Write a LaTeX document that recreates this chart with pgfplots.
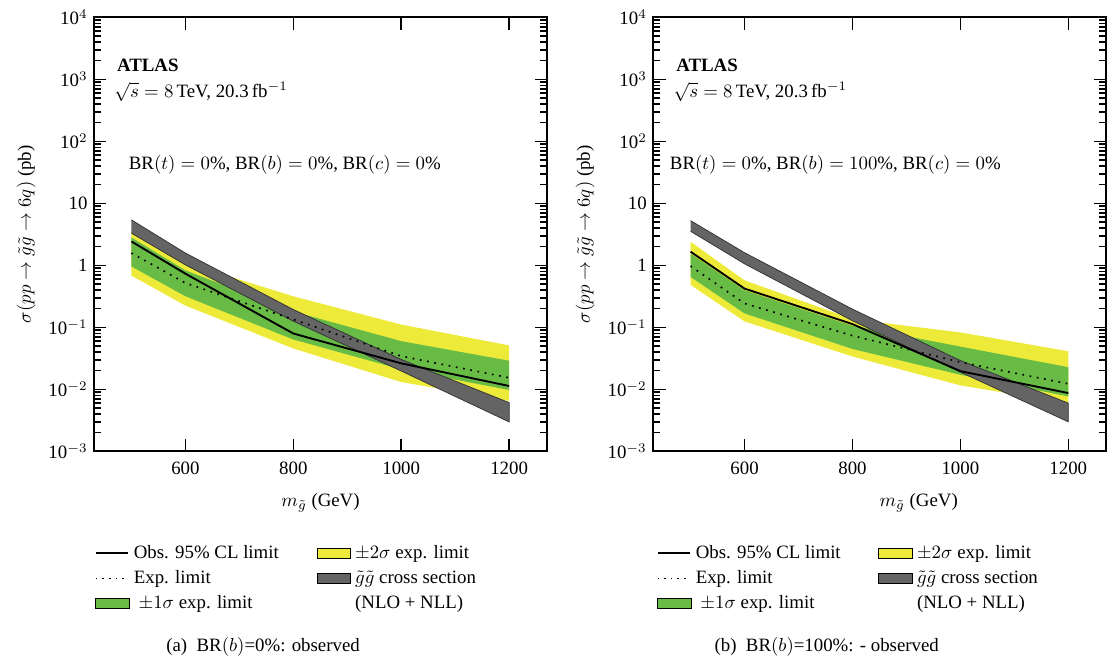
\documentclass[border=0pt]{standalone}
\usepackage{fontspec}
\setmainfont{Liberation Serif}
\usepackage{pgfplots}
\pgfplotsset{compat=1.18}

\definecolor{atlyellow}{RGB}{238,234,58}
\definecolor{atlgreen}{RGB}{104,188,69}
\definecolor{atlgray}{RGB}{100,100,100}

\begin{document}
\begin{tikzpicture}
\path (-50pt,-111.8pt) rectangle (537.1pt,239.6pt);

% (a) BR(b)=0%
\begin{axis}[
    scale only axis, width=240.3pt, height=230.4pt, clip=false,
    ymode=log, xmin=431, xmax=1270, ymin=1e-3, ymax=1e4,
    xtick={600,800,1000,1200},
    ytick={1e-3,1e-2,1e-1,1,10,100,1000,10000},
    yticklabels={10$^{-3}$,10$^{-2}$,10$^{-1}$,1,10,10$^{2}$,10$^{3}$,10$^{4}$},
    /pgf/number format/assume math mode=true,
    /pgf/number format/1000 sep={},
    tick align=inside, major tick length=6.5pt, minor tick length=3.5pt,
    axis line style={line width=1pt},
    every tick/.style={black, line width=0.8pt},
    xticklabel style={yshift=-2pt},
    xlabel={$m_{\tilde{g}}$ (GeV)},
    xlabel style={yshift=-3pt},
    ylabel={$\sigma(pp\to\tilde{g}\tilde{g}\to 6q)$ (pb)},
    legend columns=3, transpose legend, legend cell align=left,
    legend style={draw=none, fill=none, anchor=north west, at={(rel axis cs:-0.012,-0.198)},
      row sep=1pt, /tikz/every even column/.append style={column sep=18pt}},
]
\addlegendimage{black, line width=1pt}\addlegendentry{Obs. 95\% CL limit}
\addlegendimage{black, line width=0.9pt, dash pattern=on 0.9pt off 2.6pt}\addlegendentry{Exp. limit}
\addlegendimage{legend image code/.code={\draw[fill=atlgreen,draw=black,line width=0.5pt] (0pt,-2.7pt) rectangle (18pt,2.7pt);}}
\addlegendentry{\ $\pm1\sigma$ exp. limit}
\addlegendimage{legend image code/.code={\draw[fill=atlyellow,draw=black,line width=0.5pt] (0pt,-2.7pt) rectangle (18pt,2.7pt);}}
\addlegendentry{$\pm2\sigma$ exp. limit}
\addlegendimage{legend image code/.code={\draw[fill=atlgray,draw=black,line width=0.5pt] (0pt,-2.7pt) rectangle (18pt,2.7pt);}}
\addlegendentry{$\tilde{g}\tilde{g}$ cross section}
\addlegendimage{legend image code/.code={}}\addlegendentry{(NLO + NLL)}

% +-2 sigma band
\addplot[forget plot, fill=atlyellow, draw=none] coordinates {
  (500,3.74) (600,1.1) (800,0.317) (1000,0.111) (1200,0.0512)
  (1200,0.0065) (1000,0.01315) (800,0.0457) (600,0.225) (500,0.682)};
% +-1 sigma band
\addplot[forget plot, fill=atlgreen, draw=none] coordinates {
  (500,2.82) (600,0.83) (800,0.18) (1000,0.06) (1200,0.029)
  (1200,0.0098) (1000,0.021) (800,0.0638) (600,0.318) (500,0.96)};
% gluino pair cross section band
\addplot[forget plot, fill=atlgray, draw=black!80, line width=0.4pt] coordinates {
  (500,5.42) (600,1.58) (800,0.194) (1000,0.0304) (1200,0.00612)
  (1200,0.00299) (1000,0.0198) (800,0.126) (600,1.02) (500,3.31)};
% expected
\addplot[forget plot, black, line width=0.9pt, dash pattern=on 0.9pt off 3pt] coordinates {
  (500,1.58) (600,0.52) (800,0.134) (1000,0.0344) (1200,0.0154)};
% observed
\addplot[forget plot, black, line width=1pt] coordinates {
  (500,2.43) (600,0.735) (800,0.0797) (1000,0.0263) (1200,0.01135)};

\node[anchor=west, font=\bfseries] at (rel axis cs:0.036,0.89) {ATLAS};
\node[anchor=west] at (rel axis cs:0.03,0.828) {$\sqrt{s}=8$\,TeV, 20.3\,fb$^{-1}$};
\node[anchor=west] at (rel axis cs:0.062,0.66) {BR$(t)=0$\%, BR$(b)=0$\%, BR$(c)=0$\%};
\node at (rel axis cs:0.373,-0.451) {(a)\enspace BR$(b)$=0\%: observed};
\end{axis}

% (b) BR(b)=100%
\begin{axis}[at={(296.8pt,0pt)},
    scale only axis, width=240.3pt, height=230.4pt, clip=false,
    ymode=log, xmin=431, xmax=1270, ymin=1e-3, ymax=1e4,
    xtick={600,800,1000,1200},
    ytick={1e-3,1e-2,1e-1,1,10,100,1000,10000},
    yticklabels={10$^{-3}$,10$^{-2}$,10$^{-1}$,1,10,10$^{2}$,10$^{3}$,10$^{4}$},
    /pgf/number format/assume math mode=true,
    /pgf/number format/1000 sep={},
    tick align=inside, major tick length=6.5pt, minor tick length=3.5pt,
    axis line style={line width=1pt},
    every tick/.style={black, line width=0.8pt},
    xticklabel style={yshift=-2pt},
    xlabel={$m_{\tilde{g}}$ (GeV)},
    xlabel style={xshift=20.7pt, yshift=-3pt},
    ylabel={$\sigma(pp\to\tilde{g}\tilde{g}\to 6q)$ (pb)},
    legend columns=3, transpose legend, legend cell align=left,
    legend style={draw=none, fill=none, anchor=north west, at={(rel axis cs:-0.006,-0.198)},
      row sep=1pt, /tikz/every even column/.append style={column sep=18pt}},
]
\addlegendimage{black, line width=1pt}\addlegendentry{Obs. 95\% CL limit}
\addlegendimage{black, line width=0.9pt, dash pattern=on 0.9pt off 2.6pt}\addlegendentry{Exp. limit}
\addlegendimage{legend image code/.code={\draw[fill=atlgreen,draw=black,line width=0.5pt] (0pt,-2.7pt) rectangle (18pt,2.7pt);}}
\addlegendentry{\ $\pm1\sigma$ exp. limit}
\addlegendimage{legend image code/.code={\draw[fill=atlyellow,draw=black,line width=0.5pt] (0pt,-2.7pt) rectangle (18pt,2.7pt);}}
\addlegendentry{$\pm2\sigma$ exp. limit}
\addlegendimage{legend image code/.code={\draw[fill=atlgray,draw=black,line width=0.5pt] (0pt,-2.7pt) rectangle (18pt,2.7pt);}}
\addlegendentry{$\tilde{g}\tilde{g}$ cross section}
\addlegendimage{legend image code/.code={}}\addlegendentry{(NLO + NLL)}

\addplot[forget plot, fill=atlyellow, draw=none] coordinates {
  (500,2.4) (600,0.574) (800,0.136) (1000,0.083) (1200,0.0412)
  (1200,0.006) (1000,0.0116) (800,0.0339) (600,0.125) (500,0.483)};
\addplot[forget plot, fill=atlgreen, draw=none] coordinates {
  (500,1.54) (600,0.397) (800,0.106) (1000,0.049) (1200,0.0228)
  (1200,0.0077) (1000,0.0172) (800,0.0449) (600,0.168) (500,0.65)};
\addplot[forget plot, fill=atlgray, draw=black!80, line width=0.4pt] coordinates {
  (500,5.27) (600,1.6) (800,0.197) (1000,0.0292) (1200,0.006)
  (1200,0.003) (1000,0.019) (800,0.128) (600,1.06) (500,3.55)};
\addplot[forget plot, black, line width=0.9pt, dash pattern=on 0.9pt off 3pt] coordinates {
  (500,0.975) (600,0.243) (800,0.0735) (1000,0.0275) (1200,0.0123)};
\addplot[forget plot, black, line width=1pt] coordinates {
  (500,1.66) (600,0.422) (800,0.113) (1000,0.0197) (1200,0.00873)};

\node[anchor=west, font=\bfseries] at (rel axis cs:0.036,0.89) {ATLAS};
\node[anchor=west] at (rel axis cs:0.03,0.828) {$\sqrt{s}=8$\,TeV, 20.3\,fb$^{-1}$};
\node[anchor=west] at (rel axis cs:0.022,0.66) {BR$(t)=0$\%, BR$(b)=100$\%, BR$(c)=0$\%};
\node at (rel axis cs:0.383,-0.451) {(b)\enspace BR$(b)$=100\%: - observed};
\end{axis}
\end{tikzpicture}
\end{document}
